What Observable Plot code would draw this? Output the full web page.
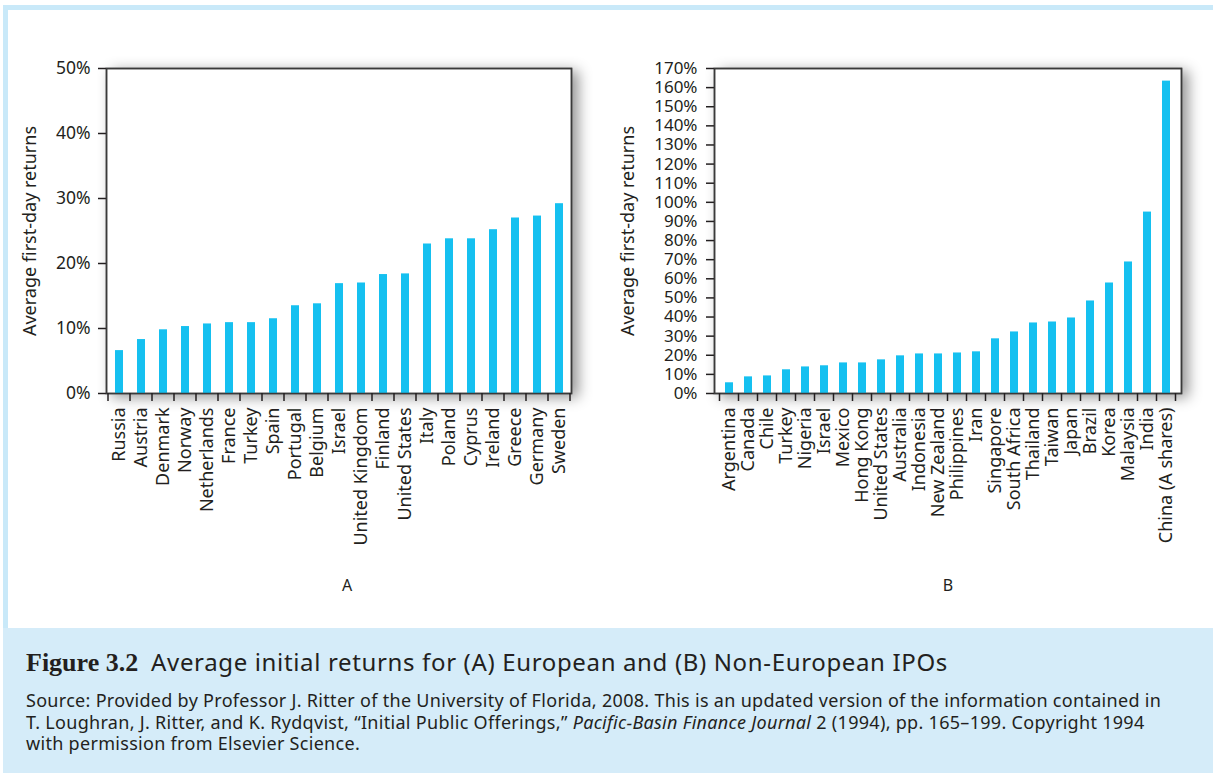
<!DOCTYPE html>
<html>
<head>
<meta charset="utf-8">
<script src="https://cdn.jsdelivr.net/npm/d3@7"></script>
<script src="https://cdn.jsdelivr.net/npm/@observablehq/plot@0.6"></script>
<style>
  html, body { margin: 0; padding: 0; background: #fff; }
  #page { position: relative; width: 1213px; height: 773px; overflow: hidden; background: #fff; font-family: "Noto Sans", sans-serif; color: #231f20; }
  .strip { position: absolute; background: #c9e9f9; }
  #chartA { position: absolute; left: 0; top: 0; }
  #chartB { position: absolute; left: 606px; top: 0; }
  #caption { position: absolute; left: 3px; top: 628px; width: 1210px; height: 145px; background: #d5ecf9; }
  #title { position: absolute; left: 26px; top: 647px; white-space: nowrap; font-size: 24px; letter-spacing: 0.65px; line-height: 30px; }
  #title b { font-family: "Liberation Serif", "DejaVu Serif", serif; font-size: 26px; font-weight: bold; letter-spacing: 0; margin-right: 6px; }
  #source { position: absolute; left: 26px; top: 690px; font-size: 18px; letter-spacing: 0.3px; line-height: 21.7px; white-space: nowrap; }
</style>
</head>
<body>
<div id="page">
  <div class="strip" style="left:3px;top:5px;width:1210px;height:5px"></div>
  <div class="strip" style="left:3px;top:5px;width:5px;height:623px"></div>
  <div id="chartA"></div>
  <div id="chartB"></div>
  <div id="caption"></div>
  <div id="title"><b>Figure 3.2</b> Average initial returns for (A) European and (B) Non-European IPOs</div>
  <div id="source">Source: Provided by Professor J. Ritter of the University of Florida, 2008. This is an updated version of the information contained in<br>T. Loughran, J. Ritter, and K. Rydqvist, “Initial Public Offerings,” <i>Pacific-Basin Finance Journal</i> 2 (1994), pp. 165–199. Copyright 1994<br>with permission from Elsevier Science.</div>
</div>
<script>
// ---- Data ----
const europeNames = ["Russia","Austria","Denmark","Norway","Netherlands","France","Turkey","Spain","Portugal","Belgium","Israel","United Kingdom","Finland","United States","Italy","Poland","Cyprus","Ireland","Greece","Germany","Sweden"];
const europeValues = [6.6,8.3,9.8,10.3,10.7,10.9,10.9,11.5,13.5,13.8,16.9,17.0,18.3,18.4,23.0,23.8,23.8,25.2,27.0,27.3,29.2];
const europeTicks = [0,10,20,30,40,50];

const nonEuropeNames = ["Argentina","Canada","Chile","Turkey","Nigeria","Israel","Mexico","Hong Kong","United States","Australia","Indonesia","New Zealand","Philippines","Iran","Singapore","South Africa","Thailand","Taiwan","Japan","Brazil","Korea","Malaysia","India","China (A shares)"];
const nonEuropeValues = [5.6,8.7,9.2,12.4,13.9,14.5,16.0,16.0,17.6,19.7,20.7,20.7,21.2,21.8,28.6,32.2,36.9,37.4,39.5,48.4,57.8,68.8,94.9,163.4];
const nonEuropeTicks = [0,10,20,30,40,50,60,70,80,90,100,110,120,130,140,150,160,170];

const yTitle = "Average first-day returns";
const panelLetters = ["A","B"];

const INK = "#231f20";
const AXIS = "#3a3a3a";
const BAR = "#15c0f0";

function barChart(opts) {
  const {names, values, ticks, letter, width, marginLeft, marginRight, paddingInner, titleDx, letterDx, tickPadding, tickFont, id} = opts;
  const data = names.map((n, i) => ({name: n, value: values[i]}));
  const chart = Plot.plot({
    width, height: 600,
    marginTop: 68, marginBottom: 207, marginLeft, marginRight,
    style: {fontFamily: "Noto Sans", color: INK, background: "transparent", overflow: "visible"},
    x: {type: "band", domain: names, paddingInner, paddingOuter: paddingInner / 2, label: null},
    y: {domain: [ticks[0], ticks[ticks.length - 1]], label: null},
    marks: [
      Plot.frame({fill: "white", stroke: AXIS, strokeWidth: 1.5}),
      Plot.barY(data, {x: "name", y: "value", fill: BAR}),
      Plot.axisY({ticks, tickFormat: d => d + "%", tickSize: 8, tickPadding, fontSize: tickFont, label: null, stroke: INK, strokeWidth: 1.5}),
      Plot.axisX({tickRotate: -90, tickSize: 0, tickPadding: 14, fontSize: 18, label: null}),
      Plot.text([yTitle], {frameAnchor: "left", textAnchor: "middle", rotate: -90, dx: titleDx, fontSize: 18, fill: INK}),
      Plot.text([letter], {frameAnchor: "bottom", dy: 197, dx: letterDx, fontSize: 16, fill: INK}),
      Plot.frame({stroke: AXIS, strokeWidth: 1.5})
    ]
  });
  const svg = d3.select(chart);
  const defs = svg.insert("defs", ":first-child");
  const f = defs.append("filter").attr("id", id).attr("x", "-20%").attr("y", "-20%").attr("width", "140%").attr("height", "140%");
  f.append("feDropShadow").attr("dx", 6).attr("dy", 3).attr("stdDeviation", 7).attr("flood-color", "#000").attr("flood-opacity", 0.42);
  svg.select('[aria-label="frame"]').attr("filter", `url(#${id})`);
  // band-boundary tick marks below the x axis
  const xs = chart.scale("x"), ys = chart.scale("y");
  const half = (xs.step - xs.bandwidth) / 2;
  const bounds = names.map(n => xs.apply(n) - half);
  bounds.push(xs.apply(names[names.length - 1]) + xs.bandwidth + half);
  const y0 = ys.apply(0);
  svg.append("g").selectAll("line").data(bounds).join("line")
    .attr("x1", d => d).attr("x2", d => d)
    .attr("y1", y0).attr("y2", y0 + 8)
    .attr("stroke", INK).attr("stroke-width", 1.5);
  return chart;
}

document.getElementById("chartA").append(barChart({
  names: europeNames, values: europeValues, ticks: europeTicks, letter: panelLetters[0],
  width: 606, marginLeft: 106, marginRight: 35, paddingInner: 0.64, titleDx: -76, letterDx: 8, tickPadding: 8, tickFont: 17.5, id: "shadowA"
}));
document.getElementById("chartB").append(barChart({
  names: nonEuropeNames, values: nonEuropeValues, ticks: nonEuropeTicks, letter: panelLetters[1],
  width: 607, marginLeft: 108, marginRight: 32, paddingInner: 0.57, titleDx: -86, letterDx: 0, tickPadding: 9, tickFont: 17, id: "shadowB"
}));
</script>
</body>
</html>
